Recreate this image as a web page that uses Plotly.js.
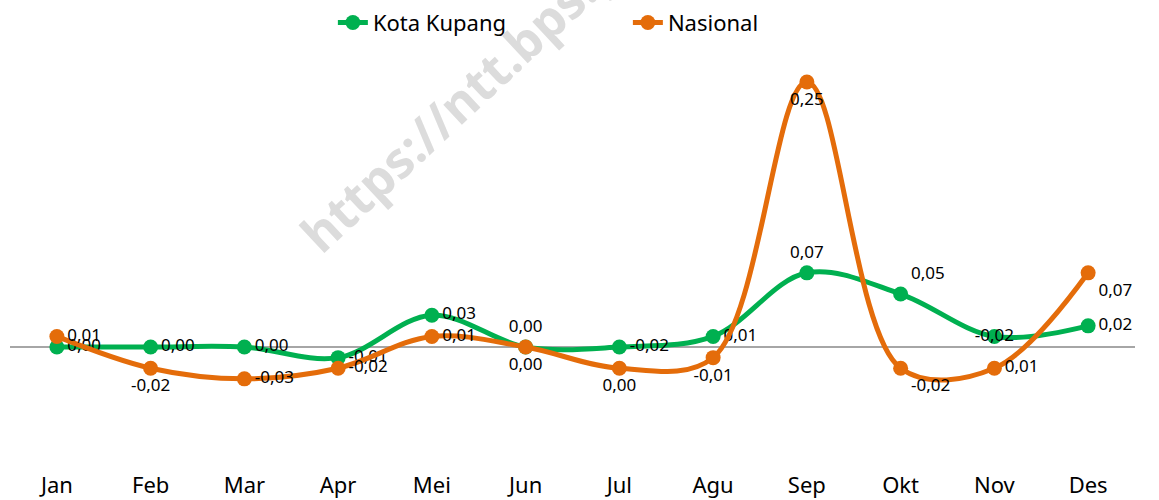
<!DOCTYPE html>
<html>
<head>
<meta charset="utf-8">
<script src="https://cdn.plot.ly/plotly-3.0.1.min.js"></script>
<style>html,body{margin:0;padding:0;background:#fff}#chart{width:1159px;height:500px}</style>
</head>
<body>
<div id="chart"></div>
<script>
const months = ["Jan","Feb","Mar","Apr","Mei","Jun","Jul","Agu","Sep","Okt","Nov","Des"];
const kotaValues = [0.00, 0.00, 0.00, -0.01, 0.03, 0.00, 0.00, 0.01, 0.07, 0.05, 0.01, 0.02];
const nasionalValues = [0.01, -0.02, -0.03, -0.02, 0.01, 0.00, -0.02, -0.01, 0.25, -0.02, -0.02, 0.07];
const kotaLabels = ["0,00","0,00","0,00","-0,01","0,03","0,00","-0,02","0,01","0,07","0,05","-0,02","0,02"];
const nasionalLabels = ["0,01","-0,02","-0,03","-0,02","0,01","0,00","0,00","-0,01","0,25","-0,02","0,01","0,07"];

const FONT = "'Noto Sans', 'Open Sans', sans-serif";
const GREEN = "#00B050";
const ORANGE = "#E46C0A";

const kotaPos = ["middle right","middle right","middle right","middle right","middle right","top center","middle right","middle right","top center","top right","middle center","middle right"];
const nasPos = ["middle right","bottom center","middle right","middle right","middle right","bottom center","bottom center","bottom center","bottom center","bottom right","middle right","bottom right"];

const traces = [
  {
    x: months, y: kotaValues, name: "Kota Kupang", type: "scatter", mode: "lines+markers+text",
    line: {color: GREEN, width: 5, shape: "spline", smoothing: 1},
    marker: {color: GREEN, size: 15},
    text: kotaLabels, textposition: kotaPos,
    textfont: {family: FONT, size: 17, color: "#000"},
    cliponaxis: false
  },
  {
    x: months, y: nasionalValues, name: "Nasional", type: "scatter", mode: "lines+markers+text",
    line: {color: ORANGE, width: 5, shape: "spline", smoothing: 1},
    marker: {color: ORANGE, size: 15},
    text: nasionalLabels, textposition: nasPos,
    textfont: {family: FONT, size: 17, color: "#000"},
    cliponaxis: false
  }
];

const layout = {
  width: 1159, height: 500,
  margin: {l: 10, r: 24, t: 57, b: 30, autoexpand: false},
  paper_bgcolor: "#fff", plot_bgcolor: "rgba(0,0,0,0)",
  font: {family: FONT, color: "#000"},
  showlegend: true,
  legend: {
    orientation: "h", x: 0.287, xanchor: "left", y: 1.083, yanchor: "middle",
    font: {family: FONT, size: 22, color: "#000"},
    entrywidth: 250, bgcolor: "rgba(0,0,0,0)"
  },
  xaxis: {
    type: "category", range: [-0.5, 11.5], showgrid: false, showline: false, ticks: "",
    tickfont: {family: FONT, size: 22, color: "#000"}, fixedrange: true, automargin: false
  },
  yaxis: {
    range: [-0.116, 0.2736], showgrid: false, showticklabels: false, ticks: "",
    zeroline: true, zerolinecolor: "#A6A6A6", zerolinewidth: 2, fixedrange: true, automargin: false
  },
  annotations: [{
    text: "<b>https://ntt.bps.go.id</b>", xref: "paper", yref: "paper",
    x: 0.429, y: 0.969, xanchor: "center", yanchor: "middle", showarrow: false, textangle: -43,
    font: {family: FONT, size: 50, color: "#DCDCDC"}
  }]
};

Plotly.newPlot("chart", traces, layout, {displayModeBar: false, staticPlot: true});
</script>
</body>
</html>
